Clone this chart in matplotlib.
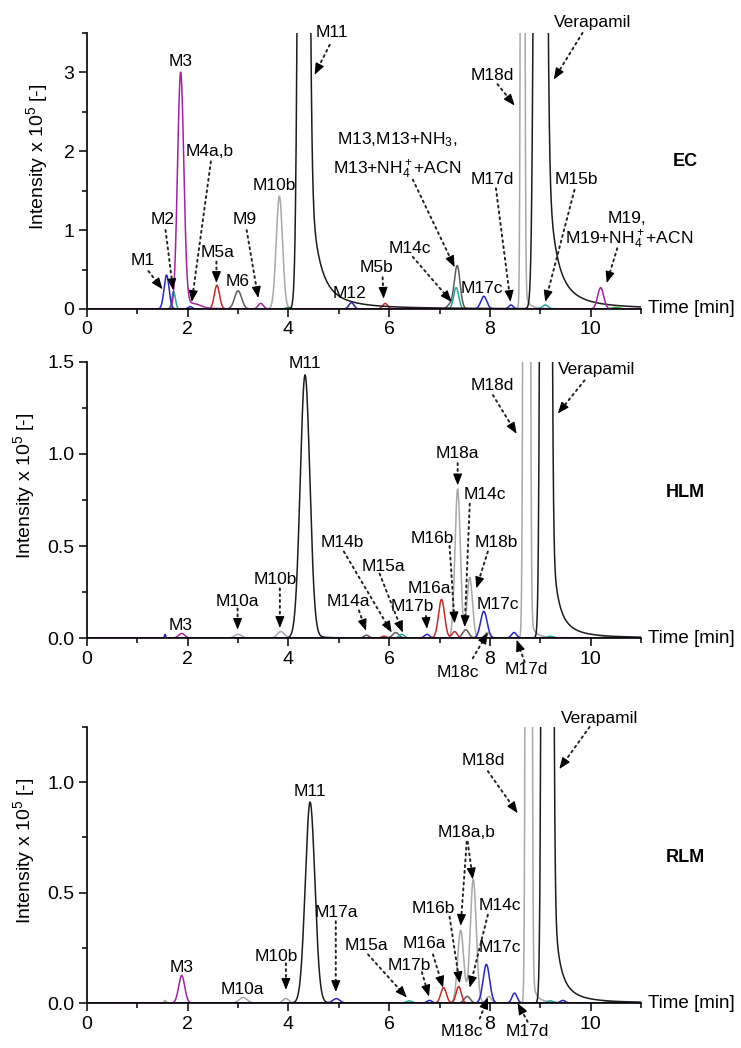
import numpy as np
import matplotlib.pyplot as plt
from matplotlib.ticker import MultipleLocator, FormatStrFormatter

plt.rcParams['font.family'] = 'Liberation Sans'
plt.rcParams['mathtext.fontset'] = 'custom'
plt.rcParams['mathtext.rm'] = 'Liberation Sans'
plt.rcParams['mathtext.it'] = 'Liberation Sans:italic'
plt.rcParams['mathtext.bf'] = 'Liberation Sans:bold'

# cores dos traços
C_BLACK = '#1c1c1c'
C_DARK = '#5c5c5c'
C_GRAY = '#a8a8a8'
C_MAG = '#a3229e'
C_BLUE = '#2626c6'
C_RED = '#c42a2a'
C_TEAL = '#2aa89c'
C_GREEN = '#2f9f3f'

# picos: (tempo, altura, largura) ou (tempo, altura, largura, altura_cauda, largura_cauda)
# intensidade em unidades de 10^5
ec_gray = [(3.82, 1.43, 0.062), (8.65, 30.0, 0.024, 0.4, 0.06)]
ec_dark = [(3.0, 0.23, 0.07), (7.35, 0.55, 0.058), (7.2, 0.05, 0.05)]
ec_teal = [(1.72, 0.22, 0.035), (7.33, 0.27, 0.05), (9.1, 0.05, 0.06)]
ec_green = [(4.0, 0.02, 0.05), (10.5, 0.02, 0.08)]
ec_red = [(2.58, 0.30, 0.052), (5.92, 0.07, 0.05)]
ec_blue = [(1.58, 0.43, 0.05), (2.05, 0.03, 0.04), (5.25, 0.08, 0.05), (7.88, 0.16, 0.06), (8.42, 0.05, 0.045)]
ec_magenta = [(1.86, 2.88, 0.062, 0.12, 0.15), (2.15, 0.04, 0.12), (3.45, 0.07, 0.05), (10.2, 0.27, 0.06)]
ec_black = [(4.30, 25.0, 0.065, 2.2, 0.20), (9.00, 40.0, 0.065, 3.0, 0.18)]

hlm_gray = [(3.0, 0.02, 0.07), (3.85, 0.035, 0.07), (7.36, 0.81, 0.053), (7.6, 0.33, 0.053),
            (7.95, 0.03, 0.05), (8.73, 30.0, 0.033, 0.3, 0.06)]
hlm_dark = [(5.55, 0.015, 0.05), (6.13, 0.03, 0.06), (7.52, 0.045, 0.06)]
hlm_teal = [(6.25, 0.02, 0.05), (9.2, 0.01, 0.06)]
hlm_green = [(10.3, 0.005, 0.1)]
hlm_red = [(5.9, 0.01, 0.05), (7.04, 0.21, 0.06), (7.3, 0.035, 0.05)]
hlm_blue = [(1.55, 0.02, 0.012), (6.75, 0.02, 0.05), (7.88, 0.145, 0.065), (8.48, 0.03, 0.05)]
hlm_magenta = [(1.88, 0.025, 0.06)]
hlm_black = [(4.33, 1.40, 0.095, 0.03, 0.15), (9.11, 40.0, 0.05, 1.0, 0.13)]

rlm_gray = [(1.55, 0.012, 0.02), (3.1, 0.025, 0.08), (3.95, 0.02, 0.06), (7.42, 0.33, 0.06),
            (7.67, 0.56, 0.06), (7.98, 0.03, 0.05), (8.77, 30.0, 0.03, 0.3, 0.06)]
rlm_dark = [(7.55, 0.03, 0.06)]
rlm_teal = [(6.4, 0.01, 0.06), (9.2, 0.01, 0.06)]
rlm_green = [(10.4, 0.006, 0.1)]
rlm_red = [(7.08, 0.07, 0.055), (7.38, 0.075, 0.05)]
rlm_blue = [(4.95, 0.02, 0.07), (6.8, 0.012, 0.05), (7.93, 0.175, 0.065), (8.49, 0.045, 0.05), (9.45, 0.012, 0.05)]
rlm_magenta = [(1.88, 0.125, 0.06)]
rlm_black = [(4.43, 0.90, 0.095, 0.01, 0.15), (9.14, 40.0, 0.05, 1.0, 0.12)]

# rótulos (texto, x, y) e setas pontilhadas (x0, y0, x1, y1)
ec_labels = [('M3', 1.85, 3.14), ('M11', 4.86, 3.51), ('M4a,b', 2.44, 2.0), ('M10b', 3.71, 1.56),
             ('M2', 1.50, 1.13), ('M9', 3.13, 1.14), ('M1', 1.11, 0.62), ('M5a', 2.60, 0.71),
             ('M6', 3.0, 0.35), ('M12', 5.22, 0.20), ('M13,M13+NH$_3$,', 6.15, 2.15),
             ('M13+NH$_4^+$+ACN', 6.15, 1.77), ('M14c', 6.41, 0.77), ('M5b', 5.75, 0.53),
             ('M17c', 7.84, 0.26), ('M18d', 8.05, 2.96), ('M17d', 8.05, 1.64),
             ('Verapamil', 10.04, 3.63), ('M15b', 9.72, 1.64), ('M19,', 10.73, 1.15),
             ('M19+NH$_4^+$+ACN', 10.77, 0.88)]
ec_arrows = [(4.82, 3.35, 4.52, 2.97), (2.46, 1.87, 2.08, 0.09), (1.56, 1.0, 1.71, 0.24),
             (3.17, 1.0, 3.40, 0.14), (1.22, 0.48, 1.50, 0.25), (2.57, 0.60, 2.57, 0.33),
             (6.47, 1.64, 7.30, 0.53), (6.47, 0.66, 7.24, 0.09), (5.87, 0.40, 5.89, 0.13),
             (8.15, 2.85, 8.49, 2.58), (8.12, 1.53, 8.41, 0.09), (9.84, 3.5, 9.27, 2.91),
             (9.68, 1.51, 9.10, 0.09), (10.53, 0.77, 10.32, 0.33)]

hlm_labels = [('M11', 4.33, 1.49), ('M3', 1.85, 0.07), ('M10a', 2.98, 0.20), ('M10b', 3.73, 0.32),
              ('M14b', 5.06, 0.52), ('M15a', 5.89, 0.39), ('M14a', 5.20, 0.20), ('M16a', 6.80, 0.27),
              ('M16b', 6.85, 0.54), ('M17b', 6.45, 0.17), ('M18a', 7.36, 1.0), ('M14c', 7.90, 0.78),
              ('M18b', 8.12, 0.52), ('M17c', 8.16, 0.18), ('M18d', 8.05, 1.37),
              ('Verapamil', 10.12, 1.46), ('M18c', 7.36, -0.185), ('M17d', 8.73, -0.17)]
hlm_arrows = [(2.99, 0.16, 2.99, 0.045), (3.83, 0.27, 3.83, 0.055), (5.10, 0.47, 6.05, 0.03),
              (5.81, 0.35, 6.27, 0.03), (5.40, 0.15, 5.54, 0.04), (7.20, 0.50, 7.30, 0.08),
              (6.73, 0.12, 6.75, 0.05), (7.36, 0.95, 7.36, 0.83), (7.60, 0.73, 7.50, 0.06),
              (7.96, 0.47, 7.73, 0.27), (8.06, 1.32, 8.53, 1.11), (9.88, 1.40, 9.35, 1.22),
              (7.66, -0.11, 7.96, 0.03), (8.69, -0.13, 8.53, -0.01)]

rlm_labels = [('M3', 1.88, 0.16), ('M10a', 3.08, 0.06), ('M10b', 3.75, 0.21), ('M11', 4.42, 0.96),
              ('M17a', 4.96, 0.41), ('M15a', 5.55, 0.26), ('M17b', 6.41, 0.17), ('M16a', 6.70, 0.27),
              ('M16b', 6.87, 0.43), ('M18a,b', 7.54, 0.77), ('M14c', 8.19, 0.44), ('M17c', 8.19, 0.25),
              ('M18d', 7.86, 1.10), ('Verapamil', 10.18, 1.29), ('M18c', 7.45, -0.13), ('M17d', 8.75, -0.13)]
rlm_arrows = [(3.95, 0.18, 3.95, 0.06), (4.94, 0.37, 4.94, 0.05), (5.58, 0.22, 6.35, 0.025),
              (6.65, 0.14, 6.79, 0.03), (6.87, 0.22, 7.07, 0.07), (7.20, 0.39, 7.40, 0.09),
              (7.54, 0.73, 7.42, 0.35), (7.56, 0.73, 7.66, 0.56), (7.96, 0.40, 7.60, 0.07),
              (7.96, 1.05, 8.55, 0.86), (9.98, 1.25, 9.38, 1.06), (7.80, -0.07, 7.96, 0.025),
              (8.75, -0.085, 8.55, 0.0)]

t = np.linspace(0, 11, 4401)


def trace(peaks):
    y = np.zeros_like(t)
    for p in peaks:
        c, h, w = p[:3]
        g = np.exp(-(t - c) ** 2 / (2 * w * w))
        y += h * g
        if len(p) > 3:
            th, tw = p[3:]
            y += np.where(t < c, th * g, th / (1 + ((t - c) / tw) ** 2))
    return y


def arrow(ax, x0, y0, x1, y1):
    ax.annotate('', xy=(x1, y1), xytext=(x0, y0), annotation_clip=False,
                arrowprops=dict(arrowstyle='-', color='#222222', lw=1.4, linestyle=(0, (1, 2)),
                                shrinkA=0, shrinkB=4))
    p0 = ax.transData.transform((x0, y0))
    p1 = ax.transData.transform((x1, y1))
    d = (p1 - p0) / np.hypot(*(p1 - p0))
    ax.annotate('', xy=(x1, y1), xytext=(-d[0] * 7, -d[1] * 7), textcoords='offset points',
                annotation_clip=False,
                arrowprops=dict(arrowstyle='-|>,head_length=0.7,head_width=0.28', color='k', lw=0.8,
                                shrinkA=0, shrinkB=0, mutation_scale=10))


fig = plt.figure(figsize=(7.41, 10.48), dpi=100)

paineis = [
    ('EC', 0.7052, 3.5, 1.0, 0.5, '%d', -0.067, 1.87,
     [ec_gray, ec_dark, ec_teal, ec_green, ec_red, ec_black, ec_blue, ec_magenta], ec_labels, ec_arrows),
    ('HLM', 0.3912, 1.5, 0.5, 0.25, '%.1f', -0.090, 0.79,
     [hlm_gray, hlm_dark, hlm_teal, hlm_green, hlm_red, hlm_black, hlm_blue, hlm_magenta], hlm_labels, hlm_arrows),
    ('RLM', 0.0429, 1.25, 0.5, 0.25, '%.1f', -0.090, 0.66,
     [rlm_gray, rlm_dark, rlm_teal, rlm_green, rlm_red, rlm_black, rlm_blue, rlm_magenta], rlm_labels, rlm_arrows),
]
cores = [C_GRAY, C_DARK, C_TEAL, C_GREEN, C_RED, C_BLACK, C_BLUE, C_MAG]

for nome, bottom, ymax, ymaj, ymin, fmt, labx, namey, traces, labels, arrows in paineis:
    ax = fig.add_axes([0.1174, bottom, 0.7476, 0.2634])
    ax.set_xlim(0, 11)
    ax.set_ylim(0, ymax)

    for peaks, cor in zip(traces, cores):
        ax.plot(t, trace(peaks), color=cor, lw=1.1)

    ax.spines['top'].set_visible(False)
    ax.spines['right'].set_visible(False)
    ax.spines['left'].set_linewidth(1.2)
    ax.spines['bottom'].set_linewidth(1.2)
    ax.xaxis.set_major_locator(MultipleLocator(2))
    ax.xaxis.set_minor_locator(MultipleLocator(1))
    ax.yaxis.set_major_locator(MultipleLocator(ymaj))
    ax.yaxis.set_minor_locator(MultipleLocator(ymin))
    ax.yaxis.set_major_formatter(FormatStrFormatter(fmt))
    ax.tick_params(which='both', direction='out', width=1.1, labelsize=14)
    ax.tick_params(which='major', length=6, pad=3)
    ax.tick_params(which='minor', length=3.5)

    ax.set_ylabel('Intensity x 10$^5$ [-]', fontsize=14)
    ax.yaxis.set_label_coords(labx, 0.55)
    ax.text(1.012, 0, 'Time [min]', transform=ax.transAxes, fontsize=13.5, ha='left', va='center')
    ax.text(11.88, namey, nome, fontsize=13, fontweight='bold', ha='center', va='center')

    for txt, x, y in labels:
        ax.text(x, y, txt, fontsize=12.5, ha='center', va='center', clip_on=False)
    for x0, y0, x1, y1 in arrows:
        arrow(ax, x0, y0, x1, y1)

fig.savefig('out.png', dpi=100)
